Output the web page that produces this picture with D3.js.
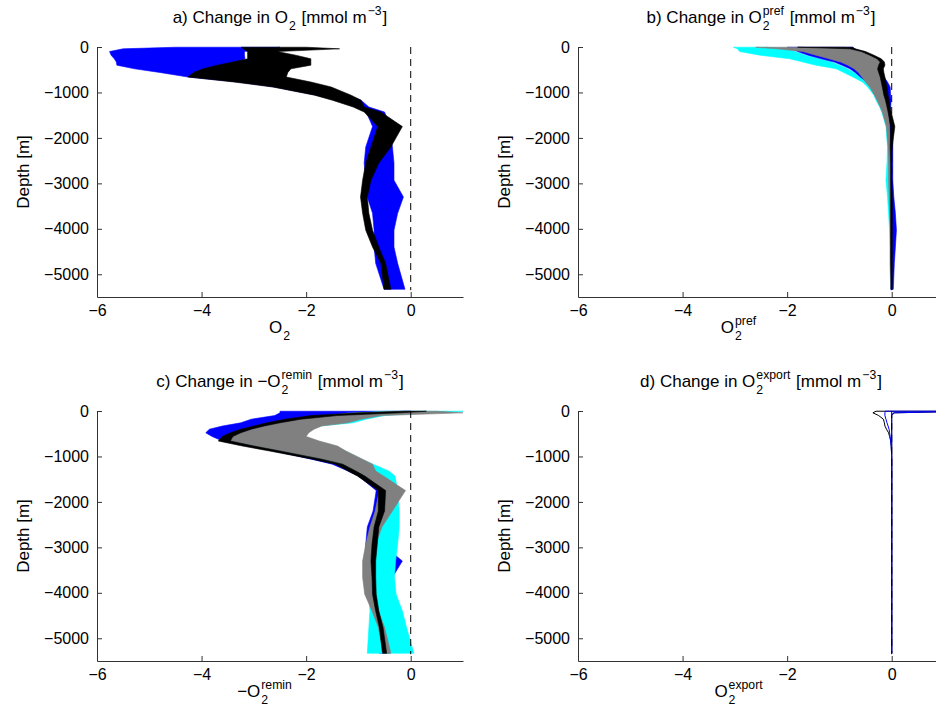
<!DOCTYPE html>
<html><head><meta charset="utf-8">
<script src="https://cdn.jsdelivr.net/npm/d3@7"></script>
<style>
body{margin:0;background:#fff}
svg{display:block}
text{font-family:"Liberation Sans",Arial,Helvetica,sans-serif;fill:#000;white-space:pre}
</style>
</head><body>
<svg id="chart" width="936" height="720"></svg>
<script>
// ---------- data (depth in m, values in mmol m^-3) ----------
const depth = [5, 40, 100, 180, 260, 330, 400, 480, 560, 660, 770, 880, 1060, 1170, 1320, 1430, 1750, 2200, 2550, 2930, 3300, 3660, 4030, 4400, 4760, 5330];

// panel a
const aBlueMin  = [-4.5, -5.5, -5.76, -5.73, -5.67, -5.63, -5.62, -5.28, -4.8, -4.26, -3.3, -2.6, -1.8, -1.4, -1.05, -0.85, -0.73, -0.86, -0.89, -0.86, -0.83, -0.73, -0.70, -0.70, -0.67, -0.51];
const aBlueMax  = [-2.5, -2.8, -3.18, -3.18, -3.17, -3.3, -3.6, -3.85, -4.05, -4.2, -2.5, -1.8, -1.2, -0.95, -0.80, -0.50, -0.40, -0.35, -0.32, -0.32, -0.14, -0.25, -0.32, -0.32, -0.25, -0.11];
const aBlackMin = [-3.24, -3.2, -3.12, -3.12, -3.12, -3.4, -3.7, -3.97, -4.15, -4.26, -3.38, -2.64, -1.84, -1.5, -1.1, -0.89, -0.63, -0.76, -0.86, -0.92, -0.96, -0.92, -0.86, -0.73, -0.57, -0.51];
const aBlackMax = [-2.0, -1.36, -2.55, -2.2, -1.91, -1.91, -1.91, -2.29, -2.35, -2.38, -1.91, -1.52, -1.14, -0.95, -0.89, -0.57, -0.16, -0.38, -0.61, -0.76, -0.83, -0.80, -0.73, -0.61, -0.48, -0.38];

// panel b
const bCyanMin  = [-3.03, -2.95, -2.91, -2.52, -1.95, -1.70, -1.45, -1.06, -0.92, -0.74, -0.56, -0.46, -0.34, -0.30, -0.23, -0.19, -0.11, -0.08, -0.09, -0.11, -0.08, -0.06, -0.04, -0.03, -0.03, -0.02];
const bCyanMax  = [-2.4, -1.95, -1.85, -1.65, -1.4, -1.15, -1.0, -0.85, -0.72, -0.60, -0.48, -0.38, -0.25, -0.20, -0.14, -0.11, -0.05, -0.03, -0.03, -0.03, -0.01, 0.00, 0.01, 0.01, 0.01, 0.01];
const bBlueMin  = [-2.0, -1.9, -1.8, -1.6, -1.35, -1.1, -0.95, -0.80, -0.70, -0.60, -0.48, -0.40, -0.30, -0.25, -0.20, -0.15, -0.08, -0.05, -0.04, -0.03, -0.03, -0.02, -0.01, -0.01, -0.01, -0.02];
const bBlueMax  = [-0.75, -0.70, -0.62, -0.50, -0.45, -0.40, -0.35, -0.30, -0.25, -0.15, -0.08, -0.03, -0.02, -0.01, -0.02, -0.04, 0.02, 0.02, 0.02, 0.02, 0.04, 0.07, 0.09, 0.07, 0.05, 0.03];
const bGrayMin  = [-2.6, -2.2, -1.7, -1.45, -1.2, -0.98, -0.84, -0.72, -0.64, -0.57, -0.50, -0.42, -0.33, -0.28, -0.22, -0.18, -0.10, -0.07, -0.06, -0.06, -0.05, -0.04, -0.03, -0.03, -0.03, -0.02];
const bGrayMax  = [-0.9, -0.75, -0.55, -0.40, -0.26, -0.20, -0.24, -0.26, -0.24, -0.21, -0.19, -0.17, -0.14, -0.11, -0.08, -0.06, -0.04, -0.02, -0.02, -0.02, -0.01, -0.01, 0.0, 0.0, 0.0, 0.0];
const bBlackMin = [-1.8, -0.80, -0.58, -0.42, -0.28, -0.22, -0.25, -0.27, -0.25, -0.22, -0.20, -0.18, -0.15, -0.12, -0.09, -0.07, -0.02, -0.03, -0.02, -0.02, -0.02, -0.02, -0.02, -0.02, -0.02, -0.01];
const bBlackMax = [-0.75, -0.70, -0.50, -0.34, -0.20, -0.14, -0.13, -0.16, -0.15, -0.13, -0.11, -0.09, -0.07, -0.05, -0.03, -0.01, 0.06, 0.01, 0.0, 0.0, 0.01, 0.01, 0.01, 0.01, 0.01, 0.01];

// panel c
const cBlueMin  = [-2.5, -2.5, -2.6, -3.05, -3.25, -3.6, -3.85, -3.92, -3.8, -3.6, -3.1, -2.6, -1.9, -1.5, -1.2, -1.0, -0.66, -0.72, -0.83, -0.86, -0.86, -0.80, -0.76, -0.75, -0.70, -0.60];
const cBlueMax  = [0.0, -1.2, -1.6, -2.1, -2.5, -2.8, -3.0, -3.3, -3.5, -3.4, -2.9, -2.4, -1.7, -1.3, -1.0, -0.8, -0.50, -0.55, -0.55, -0.55, -0.16, -0.35, -0.35, -0.40, -0.40, -0.40];
const cCyanMin  = [-0.5, -1.0, -1.6, -2.0, -2.4, -2.75, -3.0, -3.2, -3.35, -3.4, -3.0, -2.5, -1.8, -1.4, -1.05, -0.85, -0.60, -0.65, -0.72, -0.76, -0.78, -0.80, -0.80, -0.78, -0.80, -0.83];
const cCyanMax  = [1.05, 0.3, -0.5, -0.85, -1.1, -1.75, -1.9, -2.0, -2.05, -1.8, -1.45, -1.25, -0.95, -0.72, -0.42, -0.30, -0.25, -0.22, -0.22, -0.25, -0.29, -0.31, -0.28, -0.16, -0.08, 0.06];
const cGrayMin  = [-0.3, -1.0, -1.5, -2.15, -2.5, -2.8, -3.05, -3.25, -3.4, -3.45, -3.0, -2.5, -1.7, -1.3, -1.05, -0.88, -0.60, -0.68, -0.78, -0.86, -0.92, -0.92, -0.88, -0.74, -0.62, -0.52];
const cGrayMax  = [0.5, 1.0, -0.55, -0.95, -1.2, -1.7, -1.85, -1.95, -2.0, -1.75, -1.40, -1.24, -0.92, -0.73, -0.67, -0.52, -0.10, -0.35, -0.55, -0.67, -0.72, -0.74, -0.72, -0.62, -0.50, -0.38];
const cBlackMin = [-0.1, -1.0, -1.9, -2.4, -2.75, -3.0, -3.25, -3.45, -3.6, -3.68, -3.22, -2.70, -1.88, -1.44, -1.20, -1.02, -0.62, -0.62, -0.70, -0.74, -0.76, -0.74, -0.73, -0.67, -0.60, -0.54];
const cBlackMax = [0.3, -0.2, -1.4, -2.1, -2.5, -2.8, -3.05, -3.25, -3.4, -3.45, -3.0, -2.5, -1.7, -1.3, -1.05, -0.88, -0.48, -0.50, -0.61, -0.64, -0.67, -0.67, -0.66, -0.61, -0.53, -0.46];

// panel d (outlines)
const dBlackMin = [-0.30, -0.36, -0.25, -0.16, -0.14, -0.13, -0.10, -0.06, -0.04, -0.02, -0.01, -0.005, 0, 0, 0, 0, 0, 0, 0, 0, 0, 0, 0, 0, 0, 0];
const dBlackMax = [1.5, 0.05, 0, 0, 0, 0, 0, 0, 0, 0, 0, 0, 0, 0, 0, 0, 0, 0, 0, 0, 0, 0, 0, 0, 0, 0];
const dBlueMin  = [-0.12, -0.13, -0.13, -0.11, -0.09, -0.07, -0.05, -0.04, -0.03, -0.02, -0.01, -0.005, 0, 0, 0, 0, 0, 0, 0, 0, 0, 0, 0, 0, 0, 0];
const dBlueMax  = [1.5, 0.03, 0, 0, 0, 0, 0, 0, 0, 0, 0, 0, 0, 0, 0, 0, 0, 0, 0, 0, 0, 0, 0, 0, 0, 0];

const xTicks = [-6, -4, -2, 0];
const yTicks = [0, 1000, 2000, 3000, 4000, 5000];
const xDomain = [-6, 1];
const yDomain = [0, 5500];
const zeroLineDepth = [0, 5350];

// ---------- layout ----------
const W = 366, H = 250;
const svg = d3.select('#chart');
const x = d3.scaleLinear().domain(xDomain).range([0, W]);
const y = d3.scaleLinear().domain(yDomain).range([0, H]);
const minus = v => v === 0 ? '0' : '\u2212' + Math.abs(v);

const panels = [
  {left: 97, top: 47, title: [{n:'a) Change in O'},{sub:'2'},{n:' [mmol m'},{sup:'\u22123'},{n:']'}],
   xlab: [{n:'O'},{sub:'2'}], xlabShift: 0,
   bands: [[aBlueMin,aBlueMax,'#0000ff'],[aBlackMin,aBlackMax,'#000000']]},
  {left: 578, top: 47, title: [{n:'b) Change in O'},{sub:'2',sup:'pref'},{n:' [mmol m'},{sup:'\u22123'},{n:']'}],
   xlab: [{n:'O'},{sub:'2',sup:'pref'}], xlabShift: -22,
   bands: [[bCyanMin,bCyanMax,'#00ffff'],[bBlueMin,bBlueMax,'#0000ff'],[bGrayMin,bGrayMax,'#808080'],[bBlackMin,bBlackMax,'#000000']]},
  {left: 97, top: 411, title: [{n:'c) Change in \u2212O'},{sub:'2',sup:'remin'},{n:' [mmol m'},{sup:'\u22123'},{n:']'}],
   xlab: [{n:'\u2212O'},{sub:'2',sup:'remin'}], xlabShift: -15,
   bands: [[cBlueMin,cBlueMax,'#0000ff'],[cCyanMin,cCyanMax,'#00ffff'],[cGrayMin,cGrayMax,'#808080'],[cBlackMin,cBlackMax,'#000000']]},
  {left: 578, top: 411, title: [{n:'d) Change in O'},{sub:'2',sup:'export'},{n:' [mmol m'},{sup:'\u22123'},{n:']'}],
   xlab: [{n:'O'},{sub:'2',sup:'export'}], xlabShift: -22,
   lines: [[dBlackMin,dBlackMax,'#000000'],[dBlueMin,dBlueMax,'#0000ff']]}
];

function rich(sel, cx, cy, parts, fs, rotate) {
  const g = sel.append('g');
  let cur = 0;
  const small = fs * 0.72;
  parts.forEach(p => {
    if (p.n !== undefined) {
      const t = g.append('text').attr('x', cur).attr('y', 0).style('font-size', fs + 'px').text(p.n);
      cur += t.node().getComputedTextLength();
    } else {
      let w = 0;
      if (p.sub !== undefined) {
        const t = g.append('text').attr('x', cur + 1).attr('y', fs * 0.42).style('font-size', small + 'px').text(p.sub);
        w = Math.max(w, t.node().getComputedTextLength() + 1);
      }
      if (p.sup !== undefined) {
        const t = g.append('text').attr('x', cur + 1).attr('y', -fs * 0.45).style('font-size', small + 'px').text(p.sup);
        w = Math.max(w, t.node().getComputedTextLength() + 1);
      }
      cur += w + 1;
    }
  });
  if (rotate) g.attr('transform', `translate(${cx},${cy}) rotate(-90) translate(${-cur/2},0)`);
  else g.attr('transform', `translate(${cx - cur/2},${cy})`);
  return g;
}

const bandArea = d3.area().x0(d => x(d[1])).x1(d => x(d[2])).y(d => y(d[0])).curve(d3.curveLinear);
function outline(mn, mx) {
  const pts = depth.map((z, i) => [x(mn[i]), y(z)]);
  const back = depth.map((z, i) => [x(mx[i]), y(z)]).reverse();
  return d3.line()(pts.concat(back)) + 'Z';
}

panels.forEach((p, k) => {
  const g = svg.append('g').attr('transform', `translate(${p.left},${p.top})`);
  const cid = 'clip' + k;
  g.append('clipPath').attr('id', cid).append('rect').attr('x', 0).attr('y', -2).attr('width', W).attr('height', H + 2);
  const plot = g.append('g').attr('clip-path', `url(#${cid})`);

  (p.bands || []).forEach(([mn, mx, col]) => {
    const data = depth.map((z, i) => [z, mn[i], mx[i]]);
    plot.append('path').attr('d', bandArea(data)).attr('fill', col).attr('stroke', col).attr('stroke-width', 0.6);
  });
  (p.lines || []).forEach(([mn, mx, col]) => {
    plot.append('path').attr('d', outline(mn, mx)).attr('fill', 'none').attr('stroke', col).attr('stroke-width', 1);
  });

  // dashed zero line
  g.append('line').attr('x1', x(0)).attr('x2', x(0)).attr('y1', y(zeroLineDepth[0])).attr('y2', y(zeroLineDepth[1]))
    .attr('stroke', '#000').attr('stroke-width', 1).attr('stroke-dasharray', '7,5');

  // axes
  const ax = d3.axisBottom(x).tickValues(xTicks).tickFormat(minus).tickSizeInner(-5).tickSizeOuter(0).tickPadding(8);
  const ay = d3.axisLeft(y).tickValues(yTicks).tickFormat(minus).tickSizeInner(-5).tickSizeOuter(0).tickPadding(8);
  const gx = g.append('g').attr('transform', `translate(0,${H})`).call(ax);
  const gy = g.append('g').call(ay);
  [gx, gy].forEach(a => {
    a.selectAll('path,line').attr('stroke', '#333').attr('stroke-width', 1);
    a.selectAll('text').style('font-size', '16px').style('font-family', '"Liberation Sans",Arial,sans-serif').attr('fill', '#000');
  });

  rich(g, W / 2, -24, p.title, 17, false);
  rich(g, W / 2 + p.xlabShift, H + 36, p.xlab, 17, false);
  rich(g, -68, H / 2, [{n:'Depth [m]'}], 17, true);
});
</script>
</body></html>
